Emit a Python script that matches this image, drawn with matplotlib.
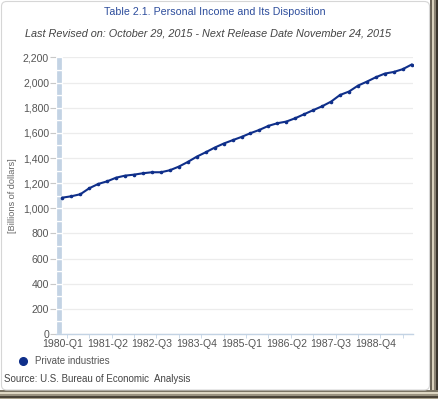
import matplotlib
matplotlib.use("Agg")
import matplotlib.pyplot as plt
from matplotlib.patches import Rectangle, FancyBboxPatch
from matplotlib.ticker import FixedLocator, FuncFormatter

plt.rcParams['font.family'] = ['Liberation Sans', 'DejaVu Sans']

# Quarterly values, 1980-Q1 .. 1989-Q4 (billions of dollars)
quarters = [f"{y}-Q{q}" for y in range(1980, 1990) for q in range(1, 5)]
private_industries = [
    1085, 1096, 1112, 1160, 1194, 1215, 1244, 1260, 1268, 1279,
    1287, 1287, 1303, 1332, 1369, 1411, 1446, 1483, 1515, 1542,
    1568, 1598, 1624, 1656, 1677, 1690, 1717, 1749, 1781, 1812,
    1849, 1902, 1929, 1976, 2008, 2043, 2072, 2085, 2107, 2144,
]
y_ticks = list(range(0, 2201, 200))
label_every = 5

title = "Table 2.1. Personal Income and Its Disposition"
subtitle = "Last Revised on: October 29, 2015 - Next Release Date November 24, 2015"
series_name = "Private industries"
source = "Source: U.S. Bureau of Economic  Analysis"

W, H = 439, 399
fig = plt.figure(figsize=(W / 100, H / 100), dpi=100)
fig.patch.set_facecolor('white')

def fx(px):
    return px / W

def fy(py):
    return 1 - py / H

# frame shadow on right and bottom
for x0, c in [(430, '#6b6456'), (432, '#d9d1bc'), (434, '#8a8272'), (436, '#3a352c'), (438, '#9a927f')]:
    fig.add_artist(Rectangle((fx(x0), 0), fx(2), 1, transform=fig.transFigure,
                             facecolor=c, edgecolor='none', zorder=0))
for y0, c in [(390, '#7a7363'), (392, '#ddd6c2'), (394, '#9a927f'), (396, '#4a4438'), (398, '#a8a08c')]:
    fig.add_artist(Rectangle((0, fy(y0 + 2)), 1, 2 / H, transform=fig.transFigure,
                             facecolor=c, edgecolor='none', zorder=0))
fig.add_artist(FancyBboxPatch((fx(1.5), fy(390)), fx(428), 388.5 / H,
                              boxstyle="round,pad=0,rounding_size=0.012",
                              transform=fig.transFigure, facecolor='white',
                              edgecolor='#d6d6d6', linewidth=0.8, zorder=1))

ax = fig.add_axes([fx(56), fy(334), fx(413 - 56), (334 - 57.5) / H])
ax.set_zorder(2)
ax.patch.set_alpha(0)

xs = list(range(len(quarters)))

# segmented band along the y axis
ax.bar([-0.36] * 22, [100] * 22, bottom=list(range(0, 2200, 100)), width=0.68,
       color='#c3d3e4', edgecolor='white', linewidth=0.9, zorder=2)

ax.plot(xs, private_industries, color='#0f2f8a', linewidth=1.5,
        marker='o', markersize=1.6, zorder=3)

ax.set_xlim(-0.72, 39.15)
ax.set_ylim(0, 2200)

ax.set_yticks(y_ticks)
ax.yaxis.set_major_formatter(FuncFormatter(lambda v, p: f"{int(v):,}"))
ax.grid(axis='y', color='#ececec', linewidth=0.9, zorder=0)

ax.set_xticks(xs[::label_every])
ax.set_xticklabels(quarters[::label_every])
ax.xaxis.set_minor_locator(FixedLocator([0.5 + 2.5 * k for k in range(16)]))

for s in ['top', 'right', 'left']:
    ax.spines[s].set_visible(False)
ax.spines['bottom'].set_color('#c3d3e4')
ax.spines['bottom'].set_linewidth(1.0)

ax.tick_params(axis='y', length=4, color='#c8c8c8', pad=1, labelsize=7.6, labelcolor='#555555')
ax.tick_params(axis='x', which='major', length=0, pad=3.5, labelsize=7.6, labelcolor='#555555')
ax.tick_params(axis='x', which='minor', length=3, color='#c3d3e4')

fig.text(fx(13), fy(196), "[Billions of dollars]", rotation=90, ha='center', va='center',
         fontsize=6.6, color='#666666')

fig.text(fx(215), fy(12), title, ha='center', va='center', fontsize=7.7, color='#2d4d9c')
fig.text(fx(208.5), fy(33), subtitle, ha='center', va='center', fontsize=7.8,
         style='italic', color='#444444')

fig.add_artist(plt.Line2D([fx(22.7)], [fy(361)], marker='o', markersize=5.5,
                          color='#0f2f8a', transform=fig.transFigure))
fig.text(fx(35), fy(361), series_name, ha='left', va='center', fontsize=7, color='#555555')
fig.text(fx(4), fy(379), source, ha='left', va='center', fontsize=7, color='#444444')

fig.savefig("out.png", dpi=100)
